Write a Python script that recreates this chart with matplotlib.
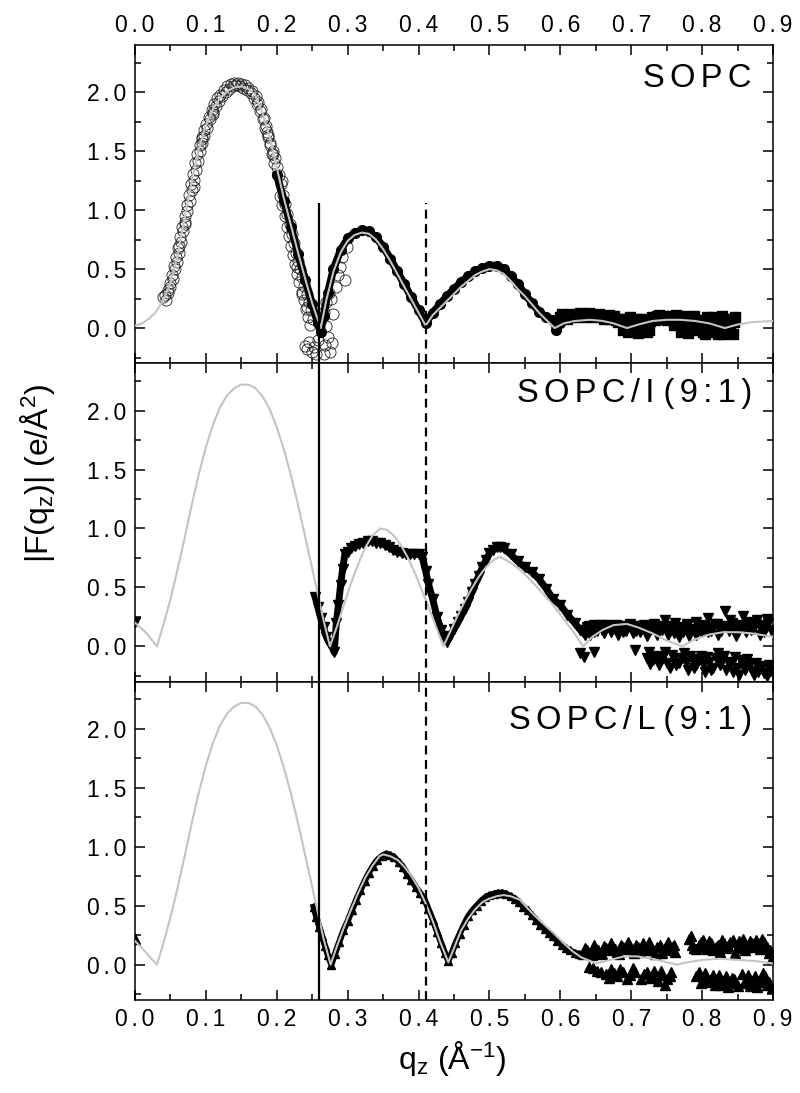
"""Form factor |F(qz)| of SOPC and SOPC mixtures: data, fits and minima markers."""

import matplotlib

matplotlib.use("Agg")
import matplotlib.pyplot as plt
from matplotlib.ticker import FuncFormatter, MultipleLocator

plt.rcParams["font.family"] = ["Liberation Sans", "DejaVu Sans"]
plt.rcParams["mathtext.fontset"] = "custom"
plt.rcParams["mathtext.rm"] = "Liberation Sans"
plt.rcParams["mathtext.it"] = "Liberation Sans"

# ---- positions of the two marked minima (solid / dashed) ----
minima_q = [0.260, 0.410]
top_line_top = 1.06

# ---- SOPC ----
sopc_fit_q = [0.000, 0.010, 0.020, 0.030, 0.040, 0.050, 0.060, 0.070, 0.080, 0.090,
              0.100, 0.110, 0.120, 0.130, 0.140, 0.150, 0.160, 0.170, 0.180, 0.190,
              0.200, 0.210, 0.220, 0.230, 0.240, 0.250, 0.262, 0.270, 0.280, 0.290,
              0.300, 0.310, 0.320, 0.330, 0.340, 0.350, 0.360, 0.370, 0.380, 0.390,
              0.400, 0.410, 0.420, 0.430, 0.440, 0.450, 0.460, 0.470, 0.480, 0.490,
              0.500, 0.510, 0.520, 0.530, 0.540, 0.550, 0.560, 0.570, 0.580, 0.592,
              0.605, 0.620, 0.642, 0.660, 0.675, 0.694, 0.710, 0.730, 0.750, 0.770,
              0.790, 0.810, 0.832, 0.850, 0.870, 0.900]
sopc_fit_f = [0.02, 0.04, 0.08, 0.14, 0.24, 0.38, 0.62, 0.93, 1.24, 1.52,
              1.72, 1.86, 1.95, 2.01, 2.04, 2.05, 2.03, 1.97, 1.82, 1.62,
              1.36, 1.10, 0.87, 0.64, 0.42, 0.21, 0.00, 0.24, 0.48, 0.64,
              0.74, 0.79, 0.81, 0.80, 0.75, 0.67, 0.57, 0.46, 0.35, 0.24,
              0.13, 0.02, 0.11, 0.17, 0.23, 0.29, 0.35, 0.40, 0.45, 0.48,
              0.50, 0.49, 0.46, 0.40, 0.33, 0.27, 0.20, 0.13, 0.07, 0.00,
              0.04, 0.06, 0.07, 0.06, 0.04, 0.00, 0.03, 0.06, 0.07, 0.07,
              0.06, 0.04, 0.00, 0.03, 0.05, 0.06]

sopc_open_q = [0.040, 0.043, 0.046, 0.049, 0.052, 0.055, 0.058, 0.061, 0.064, 0.067,
               0.070, 0.073, 0.076, 0.079, 0.082, 0.085, 0.088, 0.091, 0.094, 0.097,
               0.100, 0.104, 0.108, 0.112, 0.116, 0.120, 0.125, 0.130, 0.135, 0.140,
               0.145, 0.150, 0.155, 0.160, 0.165, 0.170, 0.174, 0.178, 0.182, 0.185,
               0.188, 0.191, 0.194, 0.197, 0.200, 0.203, 0.206, 0.209, 0.212, 0.215,
               0.218, 0.221, 0.224, 0.227, 0.230, 0.233, 0.236, 0.239, 0.242, 0.245,
               0.248, 0.251, 0.240, 0.243, 0.246, 0.249, 0.252, 0.255, 0.258, 0.262,
               0.266, 0.270, 0.273, 0.276, 0.280, 0.283, 0.286, 0.289, 0.292, 0.296,
               0.299, 0.268, 0.272, 0.275, 0.266, 0.270, 0.278, 0.228, 0.235, 0.242,
               0.062, 0.071, 0.083, 0.095, 0.110, 0.186, 0.195, 0.207,
               0.044, 0.047, 0.050, 0.053, 0.056, 0.059, 0.062, 0.065, 0.068, 0.071,
               0.074, 0.077, 0.080, 0.083, 0.086, 0.089, 0.092, 0.095, 0.098, 0.102,
               0.106, 0.110, 0.114, 0.118, 0.123, 0.128, 0.133, 0.138, 0.143, 0.148,
               0.153, 0.158, 0.163, 0.168, 0.172, 0.176, 0.180, 0.184, 0.187, 0.190,
               0.193, 0.196, 0.205, 0.208, 0.211, 0.214, 0.217, 0.220, 0.223, 0.226,
               0.229, 0.232, 0.235, 0.238, 0.241, 0.244, 0.247]
sopc_open_f = [0.26, 0.28, 0.32, 0.38, 0.45, 0.53, 0.60, 0.68, 0.77, 0.86,
               0.95, 1.04, 1.13, 1.22, 1.31, 1.40, 1.48, 1.55, 1.62, 1.68,
               1.73, 1.79, 1.85, 1.90, 1.95, 1.98, 2.02, 2.05, 2.07, 2.08,
               2.08, 2.07, 2.06, 2.04, 2.01, 1.97, 1.92, 1.86, 1.78, 1.71,
               1.64, 1.57, 1.50, 1.44, 1.37, 1.30, 1.22, 1.13, 1.05, 0.97,
               0.88, 0.80, 0.72, 0.64, 0.57, 0.50, 0.43, 0.36, 0.29, 0.22,
               0.15, 0.08, -0.15, -0.18, -0.12, -0.20, -0.16, -0.22, -0.10, 0.08,
               0.14, 0.22, 0.30, 0.25, 0.12, 0.35, 0.45, 0.52, 0.60, 0.41,
               0.69, -0.14, -0.08, -0.20, -0.22, 0.02, -0.13, 0.52, 0.29, 0.18,
               0.70, 0.88, 1.20, 1.60, 1.83, 1.66, 1.48, 1.25,
               0.24, 0.30, 0.35, 0.42, 0.50, 0.56, 0.64, 0.73, 0.82, 0.90,
               0.99, 1.08, 1.17, 1.26, 1.34, 1.42, 1.50, 1.57, 1.63, 1.70,
               1.77, 1.82, 1.88, 1.93, 1.97, 2.00, 2.03, 2.05, 2.06, 2.05,
               2.04, 2.02, 1.99, 1.95, 1.90, 1.84, 1.77, 1.70, 1.62, 1.55,
               1.48, 1.40, 1.12, 1.04, 0.95, 0.86, 0.78, 0.70, 0.62, 0.54,
               0.46, 0.39, 0.31, 0.24, 0.16, 0.09, 0.03]

sopc_fill_q = [0.200, 0.210, 0.220, 0.230, 0.240, 0.250, 0.258, 0.262, 0.266, 0.272,
               0.280, 0.290, 0.300, 0.310, 0.320, 0.330, 0.340, 0.350, 0.360, 0.370,
               0.380, 0.390, 0.400, 0.410, 0.420, 0.430, 0.440, 0.450, 0.460, 0.470,
               0.480, 0.490, 0.500, 0.510, 0.520, 0.530, 0.540, 0.550, 0.560, 0.570,
               0.580, 0.590, 0.594, 0.600]
sopc_fill_f = [1.30, 1.08, 0.86, 0.63, 0.41, 0.20, 0.04, -0.03, 0.10, 0.30,
               0.50, 0.66, 0.76, 0.81, 0.83, 0.82, 0.77, 0.69, 0.59, 0.48,
               0.37, 0.26, 0.15, 0.04, 0.13, 0.20, 0.27, 0.33, 0.39, 0.44,
               0.48, 0.51, 0.53, 0.53, 0.50, 0.44, 0.37, 0.29, 0.21, 0.14,
               0.09, 0.07, -0.02, 0.04]

sopc_sq_q = [0.600, 0.605, 0.612, 0.618, 0.625, 0.632, 0.638, 0.645, 0.652, 0.658,
             0.665, 0.672, 0.678, 0.684, 0.688, 0.692, 0.696, 0.700, 0.705, 0.710,
             0.715, 0.720, 0.725, 0.730, 0.736, 0.742, 0.748, 0.754, 0.760, 0.766,
             0.770, 0.775, 0.780, 0.786, 0.792, 0.798, 0.804, 0.810, 0.815, 0.820,
             0.826, 0.830, 0.835, 0.840, 0.845,
             0.603, 0.609, 0.615, 0.622, 0.628, 0.635, 0.641, 0.648, 0.655, 0.662,
             0.668, 0.675, 0.681, 0.690, 0.698, 0.703, 0.708, 0.712, 0.718, 0.722,
             0.727, 0.733, 0.739, 0.745, 0.751, 0.757, 0.763, 0.768, 0.772, 0.777,
             0.783, 0.789, 0.795, 0.801, 0.807, 0.812, 0.818, 0.823, 0.828, 0.833,
             0.838, 0.843, 0.846]
sopc_sq_f = [0.09, 0.10, 0.10, 0.11, 0.11, 0.12, 0.11, 0.11, 0.10, 0.10,
             0.09, 0.08, 0.07, 0.08, -0.02, 0.06, -0.03, 0.05, 0.07, -0.04,
             0.08, 0.04, -0.02, 0.09, 0.10, 0.08, 0.09, 0.10, 0.03, 0.09,
             -0.03, 0.10, -0.04, 0.08, -0.02, 0.07, -0.05, 0.06, 0.09, -0.03,
             0.07, -0.05, 0.06, -0.04, 0.05,
             0.12, 0.08, 0.12, 0.09, 0.13, 0.09, 0.13, 0.09, 0.12, 0.08,
             0.11, 0.10, 0.05, 0.08, 0.09, -0.02, 0.08, 0.02, 0.07, -0.03,
             0.06, 0.07, 0.11, 0.10, 0.07, 0.08, 0.11, 0.06, -0.02, 0.07,
             -0.01, 0.10, 0.04, -0.03, 0.09, -0.02, 0.05, -0.05, 0.10, -0.02,
             0.08, -0.05, 0.09]

# ---- SOPC/I (9:1) ----
soi_fit_q = [0.000, 0.015, 0.031, 0.040, 0.050, 0.060, 0.070, 0.080, 0.090, 0.100,
             0.110, 0.120, 0.130, 0.140, 0.150, 0.160, 0.170, 0.180, 0.190, 0.200,
             0.210, 0.220, 0.230, 0.240, 0.250, 0.258, 0.266, 0.275, 0.285, 0.295,
             0.305, 0.315, 0.325, 0.335, 0.346, 0.355, 0.365, 0.375, 0.385, 0.395,
             0.405, 0.415, 0.425, 0.435, 0.445, 0.455, 0.465, 0.475, 0.485, 0.495,
             0.505, 0.515, 0.530, 0.545, 0.560, 0.575, 0.590, 0.605, 0.620, 0.632,
             0.645, 0.660, 0.675, 0.694, 0.710, 0.730, 0.750, 0.772, 0.790, 0.810,
             0.830, 0.850, 0.870, 0.900]
soi_fit_f = [0.20, 0.12, 0.00, 0.18, 0.40, 0.65, 0.92, 1.20, 1.46, 1.69,
             1.88, 2.03, 2.13, 2.19, 2.22, 2.22, 2.19, 2.12, 2.01, 1.86,
             1.67, 1.45, 1.20, 0.93, 0.66, 0.44, 0.22, 0.00, 0.17, 0.36,
             0.54, 0.70, 0.84, 0.94, 1.00, 0.99, 0.94, 0.86, 0.75, 0.62,
             0.47, 0.32, 0.16, 0.00, 0.13, 0.26, 0.38, 0.49, 0.59, 0.67,
             0.73, 0.76, 0.71, 0.64, 0.55, 0.45, 0.35, 0.23, 0.11, 0.00,
             0.08, 0.14, 0.18, 0.19, 0.16, 0.11, 0.05, 0.00, 0.06, 0.10,
             0.12, 0.12, 0.11, 0.08]

soi_band_q = [0.254, 0.258, 0.262, 0.266, 0.270, 0.274, 0.278, 0.281, 0.284, 0.287,
              0.290, 0.293, 0.296, 0.300, 0.305, 0.310, 0.316, 0.322, 0.328, 0.334,
              0.340, 0.346, 0.352, 0.358, 0.364, 0.370, 0.376, 0.382, 0.388, 0.394,
              0.400, 0.405, 0.410, 0.414, 0.420, 0.426, 0.432, 0.440, 0.445, 0.450,
              0.455, 0.460, 0.465, 0.470, 0.475, 0.480, 0.485, 0.490, 0.495, 0.500,
              0.505, 0.510, 0.515, 0.520, 0.530, 0.540, 0.550, 0.560, 0.570, 0.580,
              0.590, 0.600, 0.610, 0.620, 0.628, 0.635]
soi_band_f = [0.42, 0.33, 0.24, 0.16, 0.08, 0.03, 0.00, -0.05, 0.20, 0.35,
              0.52, 0.66, 0.78, 0.80, 0.83, 0.85, 0.87, 0.88, 0.89, 0.89,
              0.88, 0.88, 0.86, 0.84, 0.82, 0.80, 0.79, 0.78, 0.78, 0.78,
              0.78, 0.76, 0.64, 0.53, 0.40, 0.25, 0.14, 0.04, 0.09, 0.15,
              0.21, 0.26, 0.32, 0.38, 0.46, 0.53, 0.60, 0.67, 0.73, 0.79,
              0.82, 0.84, 0.84, 0.83, 0.78, 0.72, 0.67, 0.63, 0.57, 0.49,
              0.40, 0.35, 0.27, 0.20, 0.14, 0.10]

soi_noise_q = [0.632, 0.638, 0.642, 0.648, 0.652, 0.658, 0.662, 0.668, 0.672, 0.678,
               0.682, 0.688, 0.692, 0.698, 0.702, 0.708, 0.712, 0.718, 0.722, 0.728,
               0.732, 0.738, 0.742, 0.748, 0.752, 0.758, 0.762, 0.768, 0.772, 0.778,
               0.782, 0.788, 0.792, 0.798, 0.802, 0.808, 0.812, 0.818, 0.822, 0.828,
               0.832, 0.838, 0.842, 0.848, 0.852, 0.858, 0.862, 0.868, 0.872, 0.878,
               0.882, 0.888, 0.892, 0.897,
               0.628, 0.634, 0.648, 0.705, 0.722, 0.726, 0.735, 0.742, 0.748, 0.755,
               0.760, 0.768, 0.775, 0.780, 0.786, 0.792, 0.798, 0.804, 0.810, 0.816,
               0.822, 0.828, 0.834, 0.840, 0.846, 0.852, 0.858, 0.864, 0.870, 0.876,
               0.882, 0.888, 0.894, 0.000,
               0.635, 0.641, 0.647, 0.653, 0.659, 0.665, 0.671, 0.677, 0.683, 0.689,
               0.695, 0.701, 0.707, 0.713, 0.719, 0.725, 0.731, 0.737, 0.743, 0.749,
               0.755, 0.761, 0.767, 0.773, 0.779, 0.785, 0.791, 0.797, 0.803, 0.809,
               0.815, 0.821, 0.827, 0.833, 0.839, 0.845, 0.851, 0.857, 0.863, 0.869,
               0.875, 0.881, 0.887, 0.893,
               0.725, 0.731, 0.739, 0.745, 0.751, 0.757, 0.763, 0.771, 0.777, 0.783,
               0.789, 0.795, 0.801, 0.807, 0.813, 0.819, 0.825, 0.831, 0.837, 0.843,
               0.849, 0.855, 0.861, 0.867, 0.873, 0.879, 0.885, 0.891, 0.896]
soi_noise_f = [0.12, 0.16, 0.10, 0.18, 0.13, 0.18, 0.11, 0.17, 0.14, 0.18,
               0.10, 0.17, 0.13, 0.19, 0.11, 0.16, 0.12, 0.18, 0.09, 0.15,
               0.19, 0.12, 0.17, 0.22, 0.10, 0.16, 0.20, 0.08, 0.14, 0.17,
               0.09, 0.15, 0.21, 0.12, 0.17, 0.24, 0.13, 0.19, 0.10, 0.16,
               0.30, 0.13, 0.20, 0.09, 0.18, 0.26, 0.12, 0.20, 0.15, 0.22,
               0.10, 0.18, 0.23, 0.14,
               -0.06, -0.09, -0.05, -0.03, -0.10, -0.15, -0.08, -0.12, -0.05, -0.18,
               -0.10, -0.14, -0.06, -0.20, -0.11, -0.16, -0.08, -0.22, -0.13, -0.18,
               -0.06, -0.12, -0.20, -0.15, -0.09, -0.24, -0.17, -0.11, -0.21, -0.14,
               -0.19, -0.23, -0.16, 0.21,
               0.14, 0.17, 0.12, 0.16, 0.14, 0.18, 0.12, 0.15, 0.16, 0.12,
               0.17, 0.15, 0.13, 0.17, 0.14, 0.12, 0.16, 0.10, 0.14, 0.17,
               0.13, 0.11, 0.16, 0.12, 0.19, 0.14, 0.10, 0.18, 0.14, 0.12,
               0.16, 0.19, 0.13, 0.17, 0.22, 0.15, 0.12, 0.17, 0.21, 0.14,
               0.18, 0.16, 0.12, 0.20,
               -0.05, -0.12, -0.16, -0.09, -0.14, -0.07, -0.16, -0.10, -0.13, -0.08,
               -0.18, -0.12, -0.15, -0.09, -0.20, -0.10, -0.16, -0.08, -0.13, -0.22,
               -0.18, -0.12, -0.20, -0.15, -0.24, -0.22, -0.17, -0.25, -0.20]

# ---- SOPC/L (9:1) ----
sol_fit_q = [0.000, 0.010, 0.020, 0.031, 0.040, 0.050, 0.060, 0.070, 0.080, 0.090,
             0.100, 0.110, 0.120, 0.130, 0.140, 0.150, 0.160, 0.170, 0.180, 0.190,
             0.200, 0.210, 0.220, 0.230, 0.240, 0.250, 0.258, 0.266, 0.276, 0.285,
             0.295, 0.305, 0.315, 0.325, 0.335, 0.345, 0.350, 0.360, 0.370, 0.380,
             0.390, 0.400, 0.410, 0.420, 0.430, 0.442, 0.450, 0.460, 0.470, 0.480,
             0.490, 0.500, 0.510, 0.520, 0.530, 0.543, 0.555, 0.570, 0.590, 0.605,
             0.618, 0.630, 0.651, 0.670, 0.690, 0.708, 0.730, 0.750, 0.764, 0.780,
             0.800, 0.825, 0.850, 0.875, 0.900]
sol_fit_f = [0.20, 0.14, 0.07, 0.00, 0.18, 0.40, 0.65, 0.92, 1.20, 1.46,
             1.69, 1.88, 2.03, 2.13, 2.19, 2.22, 2.22, 2.19, 2.12, 2.01,
             1.86, 1.67, 1.45, 1.20, 0.93, 0.66, 0.44, 0.22, 0.00, 0.16,
             0.32, 0.47, 0.61, 0.74, 0.84, 0.92, 0.935, 0.92, 0.89, 0.83,
             0.75, 0.65, 0.52, 0.37, 0.20, 0.02, 0.14, 0.29, 0.39, 0.47,
             0.53, 0.56, 0.58, 0.59, 0.58, 0.55, 0.47, 0.38, 0.27, 0.18,
             0.11, 0.06, 0.01, 0.04, 0.07, 0.07, 0.05, 0.02, 0.00, 0.02,
             0.04, 0.05, 0.04, 0.03, 0.01]

sol_band_q = [0.252, 0.256, 0.260, 0.264, 0.268, 0.272, 0.277, 0.282, 0.288, 0.294,
              0.300, 0.306, 0.312, 0.318, 0.324, 0.330, 0.336, 0.342, 0.348, 0.354,
              0.360, 0.366, 0.372, 0.378, 0.384, 0.390, 0.396, 0.402, 0.408, 0.414,
              0.420, 0.426, 0.432, 0.437, 0.442, 0.447, 0.452, 0.458, 0.464, 0.470,
              0.476, 0.482, 0.488, 0.494, 0.500, 0.506, 0.512, 0.518, 0.524, 0.530,
              0.536, 0.542, 0.548, 0.554, 0.560, 0.566, 0.572, 0.578, 0.584, 0.590,
              0.596, 0.602, 0.608, 0.614, 0.620, 0.626]
sol_band_f = [0.49, 0.40, 0.32, 0.24, 0.16, 0.08, 0.00, 0.09, 0.19, 0.29,
              0.37, 0.46, 0.55, 0.63, 0.71, 0.78, 0.84, 0.89, 0.92, 0.94,
              0.93, 0.91, 0.87, 0.83, 0.77, 0.72, 0.66, 0.61, 0.56, 0.47,
              0.38, 0.28, 0.18, 0.10, 0.03, 0.10, 0.18, 0.26, 0.34, 0.41,
              0.46, 0.50, 0.54, 0.57, 0.59, 0.60, 0.61, 0.61, 0.60, 0.58,
              0.56, 0.53, 0.49, 0.46, 0.42, 0.38, 0.34, 0.30, 0.27, 0.24,
              0.20, 0.17, 0.14, 0.12, 0.10, 0.09]

sol_noise_q = [0.632, 0.638, 0.644, 0.650, 0.656, 0.662, 0.668, 0.674, 0.680, 0.686,
               0.692, 0.698, 0.704, 0.710, 0.716, 0.722, 0.728, 0.734, 0.740, 0.746,
               0.752, 0.758, 0.762, 0.782, 0.786, 0.792, 0.798, 0.804, 0.810, 0.816,
               0.822, 0.828, 0.834, 0.840, 0.846, 0.852, 0.858, 0.864, 0.870, 0.876,
               0.882, 0.888, 0.894, 0.898,
               0.640, 0.652, 0.664, 0.672, 0.680, 0.688, 0.694, 0.702, 0.718, 0.726,
               0.732, 0.738, 0.744, 0.750, 0.756, 0.792, 0.798, 0.804, 0.812, 0.818,
               0.824, 0.830, 0.836, 0.842, 0.848, 0.856, 0.862, 0.868, 0.874, 0.880,
               0.886, 0.892, 0.898, 0.000,
               0.635, 0.641, 0.647, 0.653, 0.659, 0.665, 0.671, 0.677, 0.683, 0.689,
               0.695, 0.701, 0.707, 0.713, 0.719, 0.725, 0.731, 0.737, 0.743, 0.749,
               0.755, 0.760, 0.785, 0.789, 0.795, 0.801, 0.807, 0.813, 0.819, 0.825,
               0.831, 0.837, 0.843, 0.849, 0.855, 0.861, 0.867, 0.873, 0.879, 0.885,
               0.891, 0.896,
               0.646, 0.658, 0.668, 0.676, 0.684, 0.698, 0.706, 0.714, 0.722, 0.730,
               0.742, 0.748, 0.754, 0.795, 0.801, 0.808, 0.815, 0.821, 0.827, 0.833,
               0.839, 0.845, 0.851, 0.859, 0.865, 0.871, 0.877, 0.883, 0.889, 0.895]
sol_noise_f = [0.09, 0.12, 0.08, 0.13, 0.10, 0.16, 0.12, 0.15, 0.11, 0.17,
               0.13, 0.16, 0.10, 0.15, 0.18, 0.12, 0.14, 0.09, 0.17, 0.13,
               0.19, 0.15, 0.11, 0.22, 0.17, 0.13, 0.19, 0.15, 0.20, 0.12,
               0.17, 0.21, 0.14, 0.19, 0.10, 0.20, 0.22, 0.15, 0.18, 0.21,
               0.13, 0.19, 0.10, 0.06,
               -0.02, -0.05, -0.08, -0.04, -0.10, -0.06, -0.12, -0.03, -0.08, -0.11,
               -0.05, -0.14, -0.09, -0.12, -0.06, -0.10, -0.16, -0.07, -0.12, -0.17,
               -0.09, -0.14, -0.19, -0.11, -0.16, -0.08, -0.13, -0.18, -0.10, -0.15,
               -0.07, -0.17, -0.20, 0.22,
               0.14, 0.10, 0.17, 0.12, 0.09, 0.14, 0.18, 0.13, 0.09, 0.15,
               0.19, 0.13, 0.17, 0.11, 0.15, 0.19, 0.12, 0.15, 0.10, 0.16,
               0.12, 0.17, 0.24, 0.14, 0.17, 0.21, 0.13, 0.18, 0.15, 0.11,
               0.18, 0.16, 0.21, 0.14, 0.17, 0.12, 0.20, 0.15, 0.18, 0.22,
               0.15, 0.12,
               -0.03, -0.06, -0.11, -0.07, -0.04, -0.09, -0.06, -0.12, -0.06, -0.09,
               -0.05, -0.17, -0.10, -0.06, -0.12, -0.15, -0.09, -0.13, -0.17, -0.10,
               -0.15, -0.12, -0.18, -0.16, -0.09, -0.14, -0.19, -0.12, -0.10, -0.15]

panel_labels = ["SOPC", "SOPC/I (9:1)", "SOPC/L (9:1)"]
label_y = [0.895, 0.907, 0.879]

FIT_COLOR = "#c4c4c4"
TICK_SIZE = 16.5
GAP = "\u2006"  # six-per-em space: the original has letter-spaced text


def _spaced(text):
    """Letter-space a label the way the original plotting program did."""
    return " ".join(GAP.join(word) for word in text.split(" "))


def _style_axis(ax, top_labels=False, bottom_labels=False):
    ax.set_xlim(0.0, 0.9)
    ax.set_ylim(-0.3, 2.4)
    ax.xaxis.set_major_locator(MultipleLocator(0.1))
    ax.xaxis.set_minor_locator(MultipleLocator(0.05))
    ax.yaxis.set_major_locator(MultipleLocator(0.5))
    ax.yaxis.set_minor_locator(MultipleLocator(0.25))
    fmt = FuncFormatter(lambda v, _: _spaced(f"{v:.1f}"))
    ax.xaxis.set_major_formatter(fmt)
    ax.yaxis.set_major_formatter(fmt)
    ax.tick_params(which="both", direction="in", top=True, right=True,
                   labeltop=top_labels, labelbottom=bottom_labels,
                   labelsize=TICK_SIZE, width=1.1)
    ax.tick_params(which="major", length=7, pad=6)
    ax.tick_params(which="minor", length=4)
    for spine in ax.spines.values():
        spine.set_linewidth(1.1)


def _minima_lines(ax, top=None):
    ymin, ymax = ax.get_ylim()
    ytop = ymax if top is None else top
    ax.vlines(minima_q[0], ymin, ytop, color="black", lw=1.6, zorder=5)
    ax.vlines(minima_q[1], ymin, ytop, color="black", lw=1.6,
              linestyles=(0, (4, 2.5)), zorder=5)


def main():
    fig = plt.figure(figsize=(8.0, 10.93), dpi=100)
    left, width = 0.16875, 0.7975
    height = 0.2912
    bottoms = [0.0851 + 2 * height, 0.0851 + height, 0.0851]
    axes = [fig.add_axes([left, b, width, height]) for b in bottoms]

    # SOPC
    ax = axes[0]
    _style_axis(ax, top_labels=True)
    ax.plot(sopc_open_q, sopc_open_f, ls="none", marker="o", ms=8,
            mfc="none", mec="#222222", mew=0.6, zorder=2)
    ax.plot(sopc_fill_q, sopc_fill_f, color="black", lw=5.5,
            solid_joinstyle="round", marker="o", ms=7, zorder=3)
    ax.plot(sopc_sq_q, sopc_sq_f, ls="none", marker="s", ms=6.5,
            color="black", zorder=3)
    ax.plot(sopc_fit_q, sopc_fit_f, color=FIT_COLOR, lw=1.5, zorder=4)
    _minima_lines(ax, top=top_line_top)

    # SOPC/I (9:1)
    ax = axes[1]
    _style_axis(ax)
    ax.plot(soi_band_q, soi_band_f, color="black", lw=5,
            solid_joinstyle="round", marker="v", ms=7, zorder=3)
    ax.plot(soi_noise_q, soi_noise_f, ls="none", marker="v", ms=7,
            color="black", zorder=3)
    ax.plot(soi_fit_q, soi_fit_f, color=FIT_COLOR, lw=1.5, zorder=4)
    _minima_lines(ax)

    # SOPC/L (9:1)
    ax = axes[2]
    _style_axis(ax, bottom_labels=True)
    ax.plot(sol_band_q, sol_band_f, color="black", lw=4.5,
            solid_joinstyle="round", marker="^", ms=5.5, zorder=3)
    ax.plot(sol_noise_q, sol_noise_f, ls="none", marker="^", ms=7,
            color="black", zorder=3)
    ax.plot(sol_fit_q, sol_fit_f, color=FIT_COLOR, lw=1.5, zorder=4)
    _minima_lines(ax)

    for ax, text, y in zip(axes, panel_labels, label_y):
        ax.text(0.967, y, _spaced(text), transform=ax.transAxes,
                ha="right", va="center", fontsize=23.5)

    fig.text(0.047, 0.567, r"|F(q$_\mathregular{z}$)| (e/Å$^\mathregular{2}$)",
             rotation=90, ha="center", va="center", fontsize=23)
    fig.text(0.565, 0.032, r"q$_\mathregular{z}$ (Å$^\mathregular{-1}$)",
             ha="center", va="center", fontsize=23)

    fig.savefig("out.png", dpi=100)
    plt.close(fig)


if __name__ == "__main__":
    main()
